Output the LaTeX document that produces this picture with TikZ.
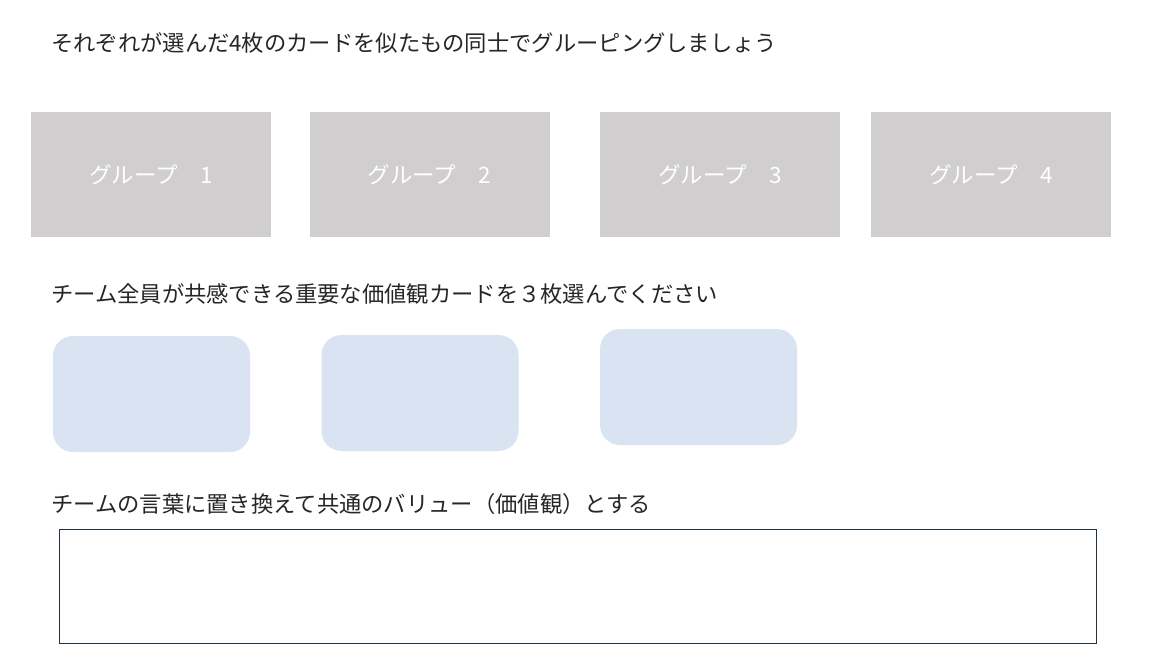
\documentclass[tikz,border=0pt]{standalone}
\usepackage{fontspec}
\setmainfont{Noto Sans CJK JP}
\begin{document}
\begin{tikzpicture}[x=1pt,y=-1pt,
  heading/.style={anchor=west,inner sep=0pt,font=\fontsize{22.3}{26}\selectfont,text=black!85},
  groupbox/.style={fill=grayfill,draw=none,minimum width=240pt,minimum height=125pt,inner sep=0pt,text=white,font=\fontsize{22.5}{26}\selectfont},
  valuecard/.style={fill=bluefill,draw=none,rounded corners=20pt,minimum width=197pt,minimum height=116pt,inner sep=0pt},
  answerbox/.style={draw=boxline,line width=1pt,minimum width=1037pt,minimum height=114pt,inner sep=0pt}]
\definecolor{grayfill}{HTML}{D0CECE}
\definecolor{bluefill}{HTML}{DAE3F1}
\definecolor{boxline}{HTML}{1F3344}
\useasboundingbox (0,0) rectangle (1154,655);
\fill[white] (0,0) rectangle (1154,655);
\node[heading] (t1) at (51,43) {それぞれが選んだ4枚のカードを似たもの同士でグルーピングしましょう};
\node[groupbox] (g1) at (151,174.5) {グループ　1};
\node[groupbox] (g2) at (429.5,174.5) {グループ　2};
\node[groupbox] (g3) at (720,174.5) {グループ　3};
\node[groupbox] (g4) at (991,174.5) {グループ　4};
\node[heading] (t2) at (51,294) {チーム全員が共感できる重要な価値観カードを３枚選んでください};
\node[valuecard] (c1) at (151.5,394) {};
\node[valuecard] (c2) at (420,393) {};
\node[valuecard] (c3) at (698.5,387) {};
\node[heading] (t3) at (51,504) {チームの言葉に置き換えて共通のバリュー（価値観）とする};
\node[answerbox] (ans) at (577.5,586) {};
\end{tikzpicture}
\end{document}
